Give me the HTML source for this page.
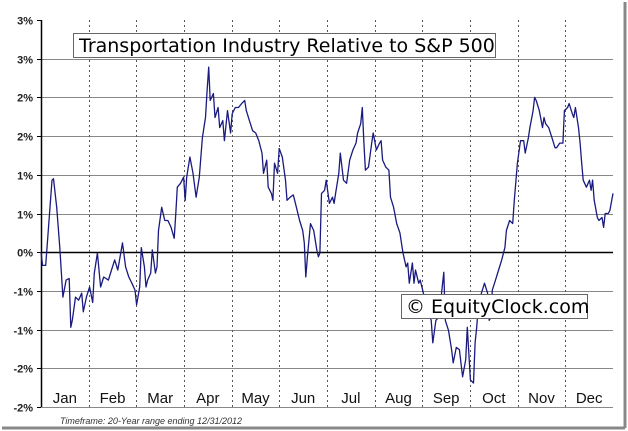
<!DOCTYPE html>
<html><head><meta charset="utf-8"><style>
html,body{margin:0;padding:0;background:#fff;}
svg{display:block;font-family:"Liberation Sans",sans-serif;}
</style></head><body>
<svg width="628" height="431" viewBox="0 0 628 431">
<rect x="0" y="0" width="628" height="431" fill="#fff"/>
<line x1="625" y1="2" x2="625" y2="428" stroke="#888" stroke-width="3"/>
<line x1="2" y1="428" x2="625" y2="428" stroke="#888" stroke-width="3"/>
<g id="grid"></g>
<g id="months"></g>
<g id="yaxis"></g>
<path id="series" fill="none" stroke="#1a1a80" stroke-width="1.3" stroke-linejoin="round"/>
<g>
<rect x="73.5" y="33.5" width="422" height="24" fill="#fff" stroke="#666" stroke-width="1"/>
<text x="79" y="52" font-size="19" fill="#000" font-family="DejaVu Sans, sans-serif">Transportation Industry Relative to S&amp;P 500</text>
</g>
<g>
<rect x="401.5" y="294.5" width="186" height="24" fill="#fff" stroke="#666" stroke-width="1"/>
<text x="406" y="313" font-size="19" fill="#000" font-family="DejaVu Sans, sans-serif">© EquityClock.com</text>
</g>
<text x="60" y="424" font-size="9" font-style="italic" fill="#333">Timeframe: 20-Year range ending 12/31/2012</text>
</svg>
<script>
const tickValues=[3.0,2.5,2.0,1.5,1.0,0.5,0,-0.5,-1.0,-1.5,-2.0];
const tickLabels=["3%","3%","2%","2%","1%","1%","0%","-1%","-1%","-2%","-2%"];
const monthLabels=["Jan","Feb","Mar","Apr","May","Jun","Jul","Aug","Sep","Oct","Nov","Dec"];
const days=[0,1,3,7,8,10,12,14,16,18,19,20,22,24,26,27,29,31,33,34,36,38,40,43,45,47,49,52,54,56,58,60,61,63,64,66,67,68,70,71,73,74,75,77,79,81,83,85,86,87,89,91,92,93,95,97,99,101,103,105,106,107,108,110,111,113,114,116,117,119,121,122,124,126,128,130,131,133,135,137,139,141,142,144,145,147,148,149,151,152,154,156,157,159,161,163,165,167,168,169,170,172,174,176,177,178,179,181,182,184,186,187,188,190,191,193,195,197,199,201,202,204,205,206,207,209,211,212,214,216,217,218,220,222,223,225,227,229,231,233,234,235,237,238,239,241,242,244,246,249,250,252,254,256,257,258,260,262,263,265,267,269,271,272,274,276,277,278,279,281,283,285,286,287,288,290,292,294,296,297,299,301,302,304,306,308,309,311,312,314,315,316,318,320,321,322,324,326,328,329,331,333,334,336,337,339,340,341,343,344,345,346,348,350,351,352,353,355,356,358,359,360,362,363,365];
const values=[0.00,-0.17,-0.17,0.93,0.95,0.58,0.06,-0.58,-0.36,-0.34,-0.97,-0.88,-0.58,-0.62,-0.53,-0.77,-0.58,-0.45,-0.65,-0.27,-0.01,-0.45,-0.32,-0.36,-0.23,-0.10,-0.23,0.12,-0.19,-0.32,-0.40,-0.49,-0.68,-0.45,0.06,-0.19,-0.45,-0.36,-0.27,0.03,-0.27,-0.19,0.28,0.58,0.41,0.41,0.32,0.18,0.50,0.84,0.89,0.97,0.67,0.97,1.23,1.02,0.71,0.97,1.48,1.74,2.09,2.39,1.96,2.05,1.74,1.87,1.61,1.70,1.44,1.83,1.54,1.79,1.87,1.87,1.92,1.96,1.83,1.70,1.57,1.54,1.44,1.28,1.02,1.19,0.84,0.76,0.67,1.15,1.02,1.34,1.23,0.93,0.67,0.71,0.74,0.58,0.41,0.28,0.12,-0.32,-0.06,0.37,0.28,0.03,-0.06,-0.01,0.76,0.80,0.93,0.63,0.71,0.63,0.76,1.02,1.28,0.93,0.89,1.19,1.32,1.41,1.54,1.66,1.87,1.44,1.06,1.10,1.41,1.54,1.32,1.41,1.44,1.19,1.10,1.06,0.71,0.58,0.37,0.25,-0.01,-0.19,-0.14,-0.40,-0.14,-0.40,-0.23,-0.40,-0.36,-0.53,-0.71,-0.88,-1.17,-0.88,-0.84,-0.45,-0.26,-0.88,-1.01,-1.26,-1.43,-1.23,-1.26,-1.61,-1.39,-0.97,-1.65,-1.69,-1.17,-0.97,-0.71,-0.53,-0.40,-0.53,-0.88,-0.84,-0.49,-0.36,-0.23,-0.10,0.06,0.28,0.41,0.37,0.67,1.15,1.44,1.44,1.28,1.48,1.61,1.83,2.00,1.96,1.83,1.61,1.74,1.66,1.61,1.48,1.35,1.35,1.41,1.41,1.83,1.87,1.92,1.79,1.74,1.87,1.61,1.41,1.15,0.93,0.84,0.93,0.80,0.93,0.67,0.45,0.41,0.45,0.32,0.50,0.50,0.54,0.76];

const NS="http://www.w3.org/2000/svg";
const X0=41,X1=613,Y0=20,Y1=407;
const xScale=d=>X0+d/365*(X1-X0);
const yScale=v=>Y1-(v-(-2))/(3-(-2))*(Y1-Y0);
function mk(tag,attrs,parent){const e=document.createElementNS(NS,tag);for(const k in attrs)e.setAttribute(k,attrs[k]);parent.appendChild(e);return e;}
const grid=document.getElementById('grid'),months=document.getElementById('months'),yaxis=document.getElementById('yaxis');
tickValues.forEach((v,i)=>{
  const y=Math.round(yScale(v))+0.5;
  if(i>0){
    const l=mk('line',{x1:X0,x2:X1,y1:y,y2:y,stroke:v===0?'#000':'#888','stroke-width':v===0?1.5:1},grid);
    
    
  }
  const t=mk('line',{x1:X0-4,x2:X0,y1:y,y2:y,stroke:'#000'},yaxis);
  
  
  const tx=mk('text',{x:33,y:y+4,'text-anchor':'end','font-size':11,'font-weight':'bold',fill:'#222'},yaxis);
  tx.textContent=tickLabels[i];
  
  
});
const ax=mk('line',{x1:X0+0.5,x2:X0+0.5,y1:Y0,y2:Y1,stroke:'#000','stroke-width':1.5},yaxis);


const mw=(X1-X0)/12;
monthLabels.forEach((m,i)=>{
  if(i>0){
    const x=Math.round(X0+i*mw)+0.5;
    const l=mk('line',{x1:x,x2:x,y1:Y0,y2:Y1,stroke:'#555','stroke-dasharray':'2,3'},months);
    
    
  }
  const t=mk('text',{x:X0+(i+0.5)*mw,y:403,'text-anchor':'middle','font-size':15,fill:'#111'},months);
  t.textContent=m;
  
  
});
document.getElementById('series').setAttribute('d',days.map((d,i)=>(i?'L':'M')+xScale(d).toFixed(1)+' '+yScale(values[i]).toFixed(1)).join(' '));
</script>
</body></html>
